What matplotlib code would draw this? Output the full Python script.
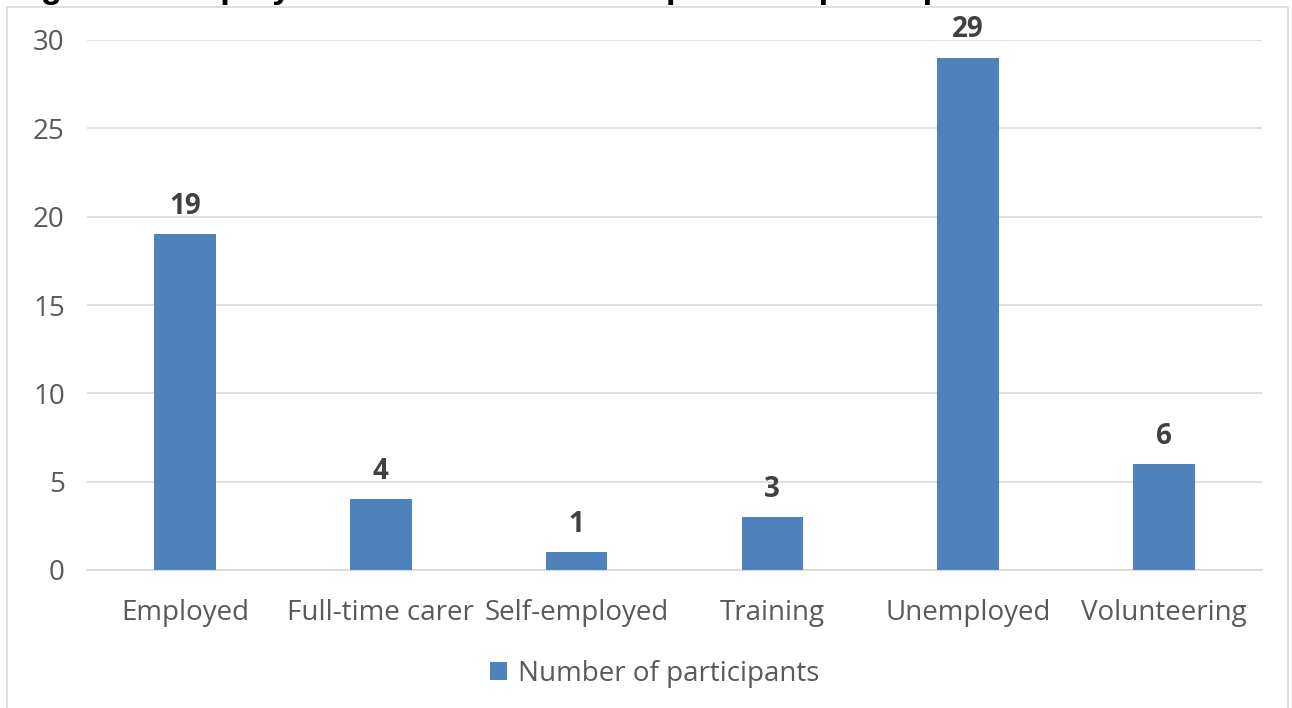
import matplotlib
matplotlib.use("Agg")
import matplotlib.pyplot as plt
from matplotlib.patches import Rectangle

categories = ["Employed", "Full-time carer", "Self-employed", "Training", "Unemployed", "Volunteering"]
values = [19, 4, 1, 3, 29, 6]
series_name = "Number of participants"
yticks = [0, 5, 10, 15, 20, 25, 30]

plt.rcParams['font.family'] = ['Open Sans', 'DejaVu Sans']

W, H = 1292, 708
fig = plt.figure(figsize=(W/100, H/100), dpi=100)
ax = fig.add_axes([87/W, 1-570/H, (1262-87)/W, (570-40)/H])

bar_color = "#4F81BD"
bars = ax.bar(range(len(categories)), values, width=0.315, color=bar_color, label=series_name, zorder=3)
for i, v in enumerate(values):
    ax.text(i, v + 0.75, str(v), ha='center', va='bottom', fontsize=20, fontweight='bold', color='#404040')

ax.set_xlim(-0.5, len(categories)-0.5)
ax.set_ylim(0, 30)
ax.set_yticks(yticks)
ax.set_xticks(range(len(categories)))
ax.set_xticklabels(categories)
ax.tick_params(axis='both', length=0, labelsize=20, colors='#595959')
ax.tick_params(axis='x', pad=21)
ax.tick_params(axis='y', pad=16)
ax.grid(axis='y', color='#d9d9d9', linewidth=1.2, zorder=0)
for s in ['top', 'right', 'left']:
    ax.spines[s].set_visible(False)
ax.spines['bottom'].set_color('#d9d9d9')
ax.spines['bottom'].set_linewidth(1.2)

# chart frame
fig.patches.append(Rectangle((7/W, -0.01), (1288-7)/W, 1-7/H+0.01, transform=fig.transFigure,
                             fill=False, edgecolor='#d9d9d9', linewidth=1.2))

# title, mostly cut off at the top edge as in the reference
fig.text(10/W, 1+1.5/H, "Figure 4: Employment status of lived experience participants", ha='left', va='baseline',
         fontsize=25, fontweight='bold', color='black', family=['Liberation Sans', 'DejaVu Sans'])

leg = fig.legend(handles=[bars], labels=[series_name], loc='center', bbox_to_anchor=(655/W, 1-674/H),
                 frameon=False, fontsize=20, handlelength=0.6, handleheight=0.6, handletextpad=0.4)
for t in leg.get_texts():
    t.set_color('#595959')

fig.savefig("out.png", dpi=100)
